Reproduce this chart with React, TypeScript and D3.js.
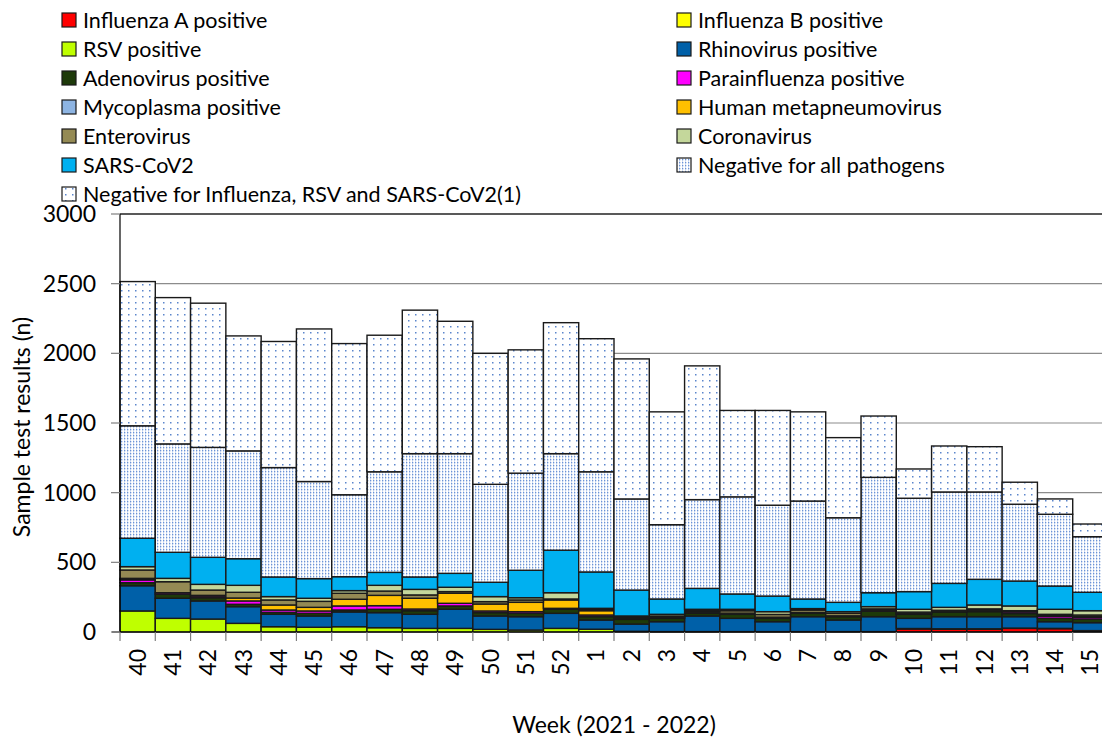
import React, { useRef, useEffect } from 'react';
import * as d3 from 'd3';

// weeks on the x axis
const weeks = ['40', '41', '42', '43', '44', '45', '46', '47', '48', '49', '50', '51', '52',
  '1', '2', '3', '4', '5', '6', '7', '8', '9', '10', '11', '12', '13', '14', '15'];

// values per week
const fluA = [0, 0, 0, 0, 0, 0, 0, 0, 0, 0, 0, 0, 0, 0, 0, 0, 0, 0, 0, 0, 0, 0, 22, 20, 20, 26, 24, 8];
const fluB = [0, 0, 0, 0, 0, 0, 0, 0, 0, 0, 0, 0, 0, 0, 0, 0, 0, 0, 0, 0, 0, 0, 0, 0, 0, 0, 0, 0];
const rsv = [151, 98, 93, 62, 38, 34, 38, 31, 26, 26, 19, 14, 26, 20, 5, 3, 3, 3, 3, 3, 3, 3, 3, 3, 3, 2, 2, 2];
const rhino = [181, 144, 130, 120, 89, 81, 106, 108, 101, 137, 96, 96, 108, 66, 52, 71, 112, 95, 71, 107, 83, 107, 73, 87, 87, 82, 48, 57];
const adeno = [22, 29, 23, 17, 14, 19, 14, 24, 26, 24, 24, 24, 29, 24, 34, 24, 19, 29, 24, 24, 24, 40, 29, 34, 36, 22, 24, 26];
const para = [20, 11, 12, 24, 17, 17, 29, 26, 12, 19, 12, 12, 7, 12, 3, 3, 4, 3, 3, 3, 3, 3, 3, 3, 5, 12, 14, 12];
const myco = [3, 0, 0, 0, 0, 0, 0, 0, 0, 0, 0, 0, 0, 0, 2, 0, 0, 0, 0, 0, 0, 0, 0, 0, 0, 0, 0, 0];
const hmpv = [8, 0, 5, 21, 36, 26, 48, 74, 77, 72, 50, 67, 60, 31, 5, 4, 5, 5, 5, 3, 3, 3, 3, 3, 5, 4, 5, 5];
const entero = [60, 79, 38, 41, 36, 43, 43, 31, 24, 12, 17, 17, 7, 10, 8, 10, 10, 18, 20, 18, 18, 10, 10, 6, 10, 5, 10, 12];
const corona = [24, 24, 41, 50, 24, 22, 19, 41, 40, 31, 36, 16, 45, 7, 6, 12, 10, 10, 20, 10, 12, 16, 20, 21, 28, 34, 36, 31];
const sars = [204, 187, 194, 191, 141, 141, 100, 93, 89, 100, 103, 197, 305, 261, 186, 110, 150, 110, 112, 69, 67, 100, 127, 172, 184, 179, 167, 132];
const negAll = [807, 778, 789, 774, 785, 697, 588, 722, 885, 859, 703, 697, 693, 719, 654, 533, 637, 697, 652, 703, 607, 828, 670, 656, 627, 551, 515, 399];
const negFlu = [1035, 1050, 1035, 825, 905, 1095, 1085, 980, 1030, 950, 940, 885, 940, 955, 1005, 810, 960, 620, 680, 640, 575, 440, 210, 330, 325, 158, 110, 91];

const yTicks = [0, 500, 1000, 1500, 2000, 2500, 3000];

const series = [
  { key: 'fluA', label: 'Influenza A positive', values: fluA, fill: '#FF0000' },
  { key: 'fluB', label: 'Influenza B positive', values: fluB, fill: '#FFFF00' },
  { key: 'rsv', label: 'RSV positive', values: rsv, fill: '#BFFF00' },
  { key: 'rhino', label: 'Rhinovirus positive', values: rhino, fill: '#0060A8' },
  { key: 'adeno', label: 'Adenovirus positive', values: adeno, fill: '#1E3A0A' },
  { key: 'para', label: 'Parainfluenza positive', values: para, fill: '#FF00FF' },
  { key: 'myco', label: 'Mycoplasma positive', values: myco, fill: '#8DB4E2' },
  { key: 'hmpv', label: 'Human metapneumovirus', values: hmpv, fill: '#FFC000' },
  { key: 'entero', label: 'Enterovirus', values: entero, fill: '#948A54' },
  { key: 'corona', label: 'Coronavirus', values: corona, fill: '#C4D79B' },
  { key: 'sars', label: 'SARS-CoV2', values: sars, fill: '#00B0F0' },
  { key: 'negAll', label: 'Negative for all pathogens', values: negAll, fill: 'url(#pat-negall)' },
  { key: 'negFlu', label: 'Negative for Influenza, RSV and SARS-CoV2(1)', values: negFlu, fill: 'url(#pat-negflu)' },
];

const FONT = 'Lato, "Open Sans", sans-serif';

const App: React.FC = () => {
  const svgRef = useRef<SVGSVGElement>(null);

  useEffect(() => {
    if (!svgRef.current) return;
    const svg = d3.select(svgRef.current);
    svg.selectAll('*').remove();

    const left = 120, right = 1108, top = 214, bottom = 632;

    // patterns for the two "negative" series
    const defs = svg.append('defs');
    const p1 = defs.append('pattern').attr('id', 'pat-negall')
      .attr('patternUnits', 'userSpaceOnUse').attr('width', 3).attr('height', 3);
    p1.append('rect').attr('width', 3).attr('height', 3).attr('fill', '#ffffff');
    p1.append('rect').attr('x', 1).attr('y', 0).attr('width', 1.3).attr('height', 1.3).attr('fill', '#6B93D6');
    p1.append('rect').attr('x', 1).attr('y', 1.5).attr('width', 1).attr('height', 1).attr('fill', '#A9C1EA');
    const p2 = defs.append('pattern').attr('id', 'pat-negflu')
      .attr('patternUnits', 'userSpaceOnUse').attr('width', 7).attr('height', 6);
    p2.append('rect').attr('width', 7).attr('height', 6).attr('fill', '#ffffff');
    p2.append('rect').attr('x', 2).attr('y', 2).attr('width', 1.5).attr('height', 1.5).attr('fill', '#5B86CC');

    const x = d3.scaleBand<string>().domain(weeks).range([left, right]).padding(0);
    const y = d3.scaleLinear().domain([0, 3000]).range([bottom, top]);

    // gridlines
    svg.append('g')
      .selectAll('line')
      .data(yTicks.filter(t => t > 0))
      .enter()
      .append('line')
      .attr('x1', left)
      .attr('x2', 1102)
      .attr('y1', d => y(d))
      .attr('y2', d => y(d))
      .attr('stroke', d => (d === 3000 ? '#222' : '#8c8c8c'))
      .attr('stroke-width', d => (d === 3000 ? 1.3 : 1.2));

    // stacked bars
    const rows = weeks.map((w, i) => {
      const r: Record<string, number | string> = { week: w };
      series.forEach(s => { r[s.key] = s.values[i]; });
      return r;
    });
    const stack = d3.stack<Record<string, number | string>>()
      .keys(series.map(s => s.key))
      .value((d, k) => d[k] as number);
    const layers = stack(rows);

    layers.forEach((layer, li) => {
      svg.append('g')
        .selectAll('rect')
        .data(layer)
        .enter()
        .append('rect')
        .attr('x', d => x(d.data.week as string) || 0)
        .attr('y', d => y(d[1]))
        .attr('width', x.bandwidth())
        .attr('height', d => Math.max(0, y(d[0]) - y(d[1])))
        .attr('fill', series[li].fill)
        .attr('stroke', '#1a1a1a')
        .attr('stroke-width', d => (d[1] - d[0] > 0 ? 1.4 : 0));
    });

    // axes lines
    svg.append('line')
      .attr('x1', left).attr('x2', left).attr('y1', top).attr('y2', bottom)
      .attr('stroke', '#000').attr('stroke-width', 1.2);
    svg.append('line')
      .attr('x1', left - 8).attr('x2', 1102).attr('y1', bottom).attr('y2', bottom)
      .attr('stroke', '#000').attr('stroke-width', 1.2);

    // y ticks and labels
    const yAxis = svg.append('g');
    yTicks.forEach(t => {
      yAxis.append('line')
        .attr('x1', left - 9).attr('x2', left).attr('y1', y(t)).attr('y2', y(t))
        .attr('stroke', '#7f7f7f').attr('stroke-width', 1.2);
      yAxis.append('text')
        .attr('x', 96)
        .attr('y', y(t))
        .attr('dy', '0.35em')
        .attr('text-anchor', 'end')
        .style('font-family', FONT)
        .style('font-size', '23px')
        .attr('fill', '#000')
        .text(String(t));
    });

    // x ticks on category boundaries and rotated labels
    const xAxis = svg.append('g');
    weeks.forEach(w => {
      const x0 = x(w) || 0;
      xAxis.append('line')
        .attr('x1', x0).attr('x2', x0).attr('y1', bottom).attr('y2', bottom + 9)
        .attr('stroke', '#7f7f7f').attr('stroke-width', 1.2);
      const cx = Math.min(x0 + x.bandwidth() / 2, 1092);
      xAxis.append('text')
        .attr('transform', `translate(${cx},649) rotate(-90)`)
        .attr('text-anchor', 'end')
        .attr('dy', '0.35em')
        .style('font-family', FONT)
        .style('font-size', '23px')
        .attr('fill', '#000')
        .text(w);
    });

    // axis titles
    svg.append('text')
      .attr('x', 614)
      .attr('y', 733)
      .attr('text-anchor', 'middle')
      .style('font-family', FONT)
      .style('font-size', '23px')
      .text('Week (2021 - 2022)');
    svg.append('text')
      .attr('transform', 'translate(30,427) rotate(-90)')
      .attr('text-anchor', 'middle')
      .style('font-family', FONT)
      .style('font-size', '23px')
      .text('Sample test results (n)');

    // legend, two columns in series order
    const legend = svg.append('g');
    series.forEach((s, i) => {
      const col = i % 2;
      const row = Math.floor(i / 2);
      const bx = col === 0 ? 62 : 677;
      const cy = 20 + row * 29;
      legend.append('rect')
        .attr('x', bx).attr('y', cy - 7).attr('width', 14).attr('height', 14)
        .attr('fill', s.fill).attr('stroke', '#1a1a1a').attr('stroke-width', 1.2);
      legend.append('text')
        .attr('x', bx + 21)
        .attr('y', cy)
        .attr('dy', '0.36em')
        .style('font-family', FONT)
        .style('font-size', '21.5px')
        .attr('fill', '#000')
        .text(s.label);
    });
  }, []);

  return (
    <svg
      ref={svgRef}
      width={1102}
      height={740}
      style={{ position: 'absolute', left: 0, top: 0, background: '#fff', display: 'block' }}
    />
  );
};

export default App;
